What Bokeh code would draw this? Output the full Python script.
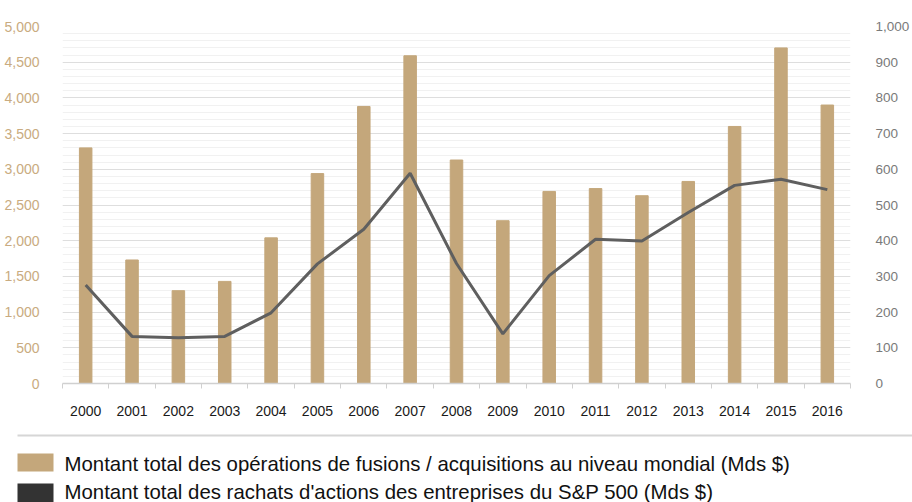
from bokeh.plotting import figure
from bokeh.models import (Range1d, LinearAxis, SingleIntervalTicker, FixedTicker,
                          NumeralTickFormatter, ColumnDataSource)
from bokeh.core.properties import value
from bokeh.embed import file_html
from bokeh.resources import INLINE

# ---- data ----
years = ["2000", "2001", "2002", "2003", "2004", "2005", "2006", "2007", "2008",
         "2009", "2010", "2011", "2012", "2013", "2014", "2015", "2016"]
ma_values = [3300, 1730, 1300, 1430, 2040, 2940, 3880, 4590, 3130,
             2280, 2690, 2730, 2630, 2830, 3600, 4700, 3900]
buyback_values = [276, 132, 128, 132, 198, 335, 432, 589, 336,
                  139, 302, 404, 399, 479, 555, 572, 543]
legend_labels = [
    "Montant total des opérations de fusions / acquisitions au niveau mondial (Mds $)",
    "Montant total des rachats d'actions des entreprises du S&P 500 (Mds $)",
]

BAR = "#c4a77b"
LINE = "#5f5f5f"
DARK = "#333333"
FONT = "Liberation Sans"

idx = list(range(len(years)))
src = ColumnDataSource(dict(x=idx, ma=ma_values, bb=buyback_values))

p = figure(width=912, height=428, output_backend="svg", toolbar_location=None,
           x_range=Range1d(-0.5, len(years) - 0.5), y_range=Range1d(0, 5000),
           min_border_left=62, min_border_right=54, min_border_top=26,
           min_border_bottom=45)
p.outline_line_color = None
p.background_fill_color = "white"
p.border_fill_color = "white"

p.extra_y_ranges = {"right": Range1d(0, 1000)}

p.vbar(x="x", top="ma", width=0.27, color=BAR, source=src)
p.line(x="x", y="bb", line_color=LINE, line_width=3, y_range_name="right", source=src)

# left axis
yax = p.yaxis[0]
yax.ticker = SingleIntervalTicker(interval=500, num_minor_ticks=5)
yax.formatter = NumeralTickFormatter(format="0,0")
yax.axis_line_color = None
yax.major_tick_line_color = None
yax.minor_tick_line_color = None
yax.major_label_text_color = "#c9ab80"
yax.major_label_text_font = FONT
yax.major_label_text_font_size = "14px"
yax.major_label_standoff = 17

# right axis
rax = LinearAxis(y_range_name="right", ticker=SingleIntervalTicker(interval=100),
                 formatter=NumeralTickFormatter(format="0,0"))
rax.axis_line_color = None
rax.major_tick_line_color = None
rax.minor_tick_line_color = None
rax.major_label_text_color = "#7a7a7a"
rax.major_label_text_font = FONT
rax.major_label_text_font_size = "13.5px"
rax.major_label_standoff = 19
p.add_layout(rax, "right")

# x axis
xax = p.xaxis[0]
xax.ticker = FixedTicker(ticks=idx, minor_ticks=[i - 0.5 for i in range(len(years) + 1)])
xax.major_label_overrides = {i: y for i, y in zip(idx, years)}
xax.axis_line_color = "#d0d0d0"
xax.axis_line_width = 1.5
xax.major_tick_line_color = None
xax.minor_tick_line_color = "#d0d0d0"
xax.minor_tick_out = 5
xax.minor_tick_in = 0
xax.major_label_text_color = "#1a1a1a"
xax.major_label_text_font = FONT
xax.major_label_text_font_size = "14px"
xax.major_label_standoff = 16

# grids
p.xgrid.visible = False
p.ygrid.grid_line_color = "#dedede"
p.ygrid.grid_line_width = 1
p.ygrid.minor_grid_line_color = "#f1f1f1"
p.ygrid.minor_grid_line_width = 1

# ---- legend panel ----
H2 = 74
p2 = figure(width=912, height=H2, output_backend="svg", toolbar_location=None,
            x_range=Range1d(0, 912), y_range=Range1d(H2, 0),
            x_axis_location=None, y_axis_location=None,
            min_border=0, min_border_left=0, min_border_right=0,
            min_border_top=0, min_border_bottom=0)
p2.outline_line_color = None
p2.grid.visible = False
p2.segment(x0=[17], y0=[7], x1=[912], y1=[7], line_color="#d6d6d6", line_width=2)
p2.rect(x=[35, 35], y=[34, 64.5], width=36, height=[18, 19],
        fill_color=[BAR, DARK], line_color=None)
p2.text(x=[64, 64], y=[35, 63], text=legend_labels, text_font=value(FONT),
        text_font_size="20.4px", text_baseline="middle", text_align="left",
        text_color="#111111")

open("out.html", "w").write(file_html([p, p2], INLINE))
